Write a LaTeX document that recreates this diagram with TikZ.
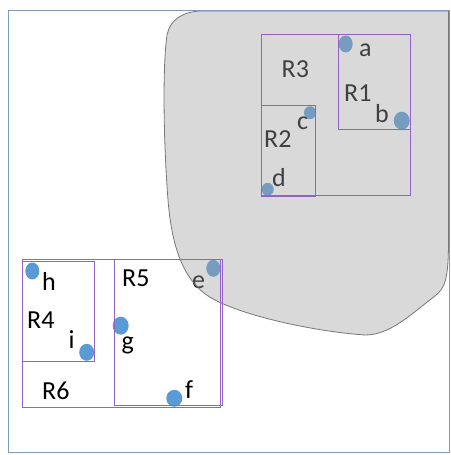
\documentclass[tikz,border=0pt]{standalone}
\usepackage{fontspec}
\setmainfont{Carlito}
\usetikzlibrary{shapes.geometric}

\definecolor{framec}{RGB}{125,155,192}
\definecolor{rectc}{RGB}{148,98,198}
\definecolor{dotc}{RGB}{91,155,213}
\definecolor{regionc}{RGB}{160,160,160}
\definecolor{regionline}{RGB}{120,120,120}

\tikzset{
  lbl/.style={anchor=base west, inner sep=0pt, font=\fontsize{26}{26}\selectfont},
  pt/.style={ellipse, fill=dotc, inner sep=0pt, minimum width=14pt, minimum height=17pt},
  ptsmall/.style={ellipse, fill=dotc, inner sep=0pt, minimum width=12pt, minimum height=13pt},
  box/.style={draw=rectc, line width=1pt},
}

\begin{document}
\begin{tikzpicture}[x=1pt, y=-1pt]
\useasboundingbox (0,0) rectangle (450,455);
\fill[white] (0,0) rectangle (450,455);

% points
\node[pt] (pa) at (345.7,44) {};
\node[pt, minimum width=16pt, minimum height=18pt] (pb) at (401.7,120.7) {};
\node[ptsmall] (pc) at (310,112.7) {};
\node[ptsmall] (pd) at (267.7,189.3) {};
\node[pt] (pe) at (213.3,268.3) {};
\node[pt] (ph) at (32.3,271) {};
\node[pt, minimum width=15pt] (pi) at (86.7,352.3) {};
\node[pt, minimum width=16pt, minimum height=18pt] (pg) at (120.7,325.7) {};
\node[pt, minimum width=16pt] (pf) at (174.3,398.3) {};

% labels
\node[lbl] (tR3) at (281.5,77.7) {R3};
\node[lbl] (ta) at (359,56) {a};
\node[lbl] (tR1) at (344,101) {R1};
\node[lbl] (tb) at (375,122.7) {b};
\node[lbl] (tc) at (297,129.3) {c};
\node[lbl] (tR2) at (264,147.3) {R2};
\node[lbl] (td) at (272,186.7) {d};
\node[lbl] (tR5) at (122,286.7) {R5};
\node[lbl] (te) at (192,288.3) {e};
\node[lbl] (th) at (42,290) {h};
\node[lbl] (tR4) at (27,328.3) {R4};
\node[lbl] (ti) at (68.5,348.3) {i};
\node[lbl] (tg) at (121.5,349) {g};
\node[lbl] (tf) at (185,398.3) {f};
\node[lbl] (tR6) at (42,399.3) {R6};

% translucent region
\draw[regionline, line width=0.8pt, fill=regionc, fill opacity=0.4]
  (200,11) -- (448.5,11) -- (448.5,240)
  .. controls (448.5,280) and (445,288) .. (435,296)
  .. controls (410,315) and (390,335) .. (365,335)
  .. controls (320,332) and (250,318) .. (215,300)
  .. controls (185,285) and (172,250) .. (168,200)
  .. controls (164,150) and (162,70) .. (167,35)
  .. controls (170,20) and (182,12) .. (200,11) -- cycle;

% rectangles
\draw[box] (261.7,34.3) rectangle (410,195.7);   % R3
\draw[box] (338.3,34.3) rectangle (410,129.3);   % R1
\draw[box] (261.7,105) rectangle (315.7,196.7);  % R2
\draw[box] (22.5,259.3) rectangle (220.3,407.3); % R6
\draw[box] (22.5,261.5) rectangle (94.5,361.7);  % R4
\draw[box] (114.7,259.3) rectangle (222.3,405);  % R5

% frame
\draw[framec, line width=1pt] (8.3,10) rectangle (449,452);
\end{tikzpicture}
\end{document}
